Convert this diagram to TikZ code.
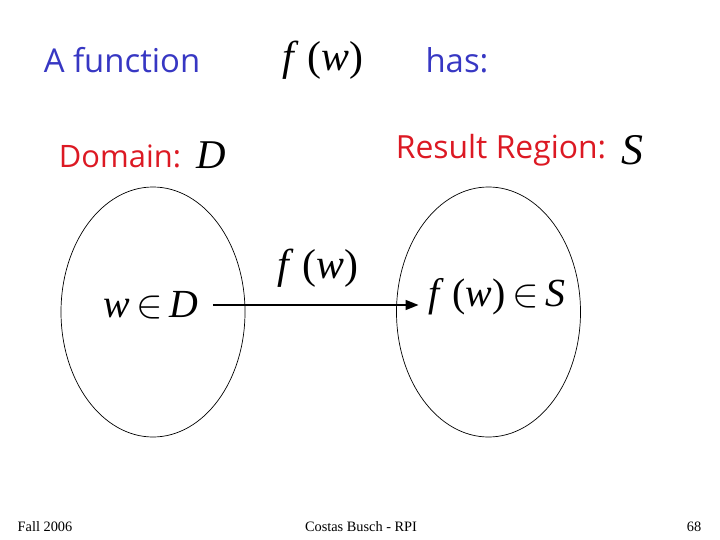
\documentclass[tikz,border=0pt]{standalone}
\usepackage{fix-cm}
\usepackage{fontspec}
\setmainfont{Liberation Serif}
\newfontfamily\sansf{Open Sans}
\usetikzlibrary{shapes.geometric,arrows.meta}
\definecolor{tblue}{RGB}{55,55,195}
\definecolor{tred}{RGB}{220,25,35}
\tikzset{
  bluetxt/.style={text=tblue,font=\sansf\fontsize{33}{38}\selectfont,inner sep=0},
  redtxt/.style={text=tred,font=\sansf\fontsize{32}{37}\selectfont,inner sep=0},
  mathtxt/.style={text=black,font=\fontsize{40}{46}\selectfont,inner sep=0},
  settxt/.style={ellipse,draw=black,line width=0.7bp,minimum width=184bp,minimum height=250bp,inner sep=0},
  foot/.style={font=\fontsize{14.4}{16}\selectfont,inner sep=0},
  maparrow/.style={line width=1.6bp,-{Triangle[length=13bp,width=10bp]}}
}
\newcommand{\fw}{\textit{f}\hspace{0.2em}(\textit{w})}
\begin{document}
\begin{tikzpicture}[x=1bp,y=-1bp]
\useasboundingbox (0,0) rectangle (720,540);
% title line
\node[bluetxt] (afun) at (122,60) {A function};
\node[mathtxt,font=\fontsize{42}{48}\selectfont] (ftop) at (323,60) {\fw};
\node[bluetxt] (has) at (457,60) {has:};
% labels
\node[redtxt,font=\sansf\fontsize{31}{36}\selectfont] (dom) at (120,156) {Domain:};
\node[mathtxt,font=\fontsize{41}{46}\selectfont] (Dlab) at (211,155) {\textit{D}};
\node[redtxt] (res) at (501,150) {Result Region:};
\node[mathtxt,font=\fontsize{44}{50}\selectfont] (Slab) at (632,150) {\textit{S}};
% sets
\node[settxt] (domset) at (153,312) {};
\node[settxt] (resset) at (488.5,312) {};
% elements
\node[mathtxt,inner xsep=14bp] (wD) at (151,305) {\textit{w}\,$\in$\,\textit{D}};
\node[mathtxt,inner xsep=10bp] (fwS) at (497,297) {\fw\,$\in$\,\textit{S}};
\node[mathtxt,font=\fontsize{42}{48}\selectfont] (flab) at (318,268) {\fw};
\draw[maparrow] (wD.east) -- (wD.east -| fwS.west);
% footer
\node[foot] (fall) at (45,527) {Fall 2006};
\node[foot] (auth) at (361,527) {Costas Busch - RPI};
\node[foot] (page) at (694,527) {68};
\end{tikzpicture}
\end{document}
